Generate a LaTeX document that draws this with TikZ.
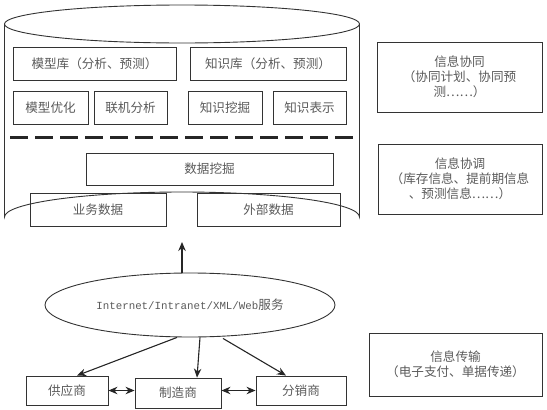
\documentclass[tikz,border=0pt]{standalone}
\usepackage{fontspec}
\usetikzlibrary{arrows.meta,shapes.geometric}
\newfontfamily\cjk{Noto Sans CJK SC}
\newfontfamily\monof{Liberation Mono}
\definecolor{txt}{HTML}{5A5A5A}
\definecolor{ln}{HTML}{333333}
\tikzset{
  box/.style={draw=ln, line width=0.9pt, inner sep=0pt, text=txt, align=center,
    font=\cjk\fontsize{12.6}{15}\selectfont},
  arr/.style={draw=black!85, line width=1.1pt, -{Stealth[length=9pt,width=7.5pt]}},
  darr/.style={draw=black!85, line width=1.1pt, {Stealth[length=9pt,width=7.5pt]}-{Stealth[length=9pt,width=7.5pt]}}
}
\begin{document}
\begin{tikzpicture}[x=1pt,y=-1pt]
\useasboundingbox (0,0) rectangle (547,410);
% cylinder
\draw[ln, line width=0.9pt] (182,24) ellipse [x radius=177.5, y radius=19];
\draw[ln, line width=0.9pt] (4.5,24) -- (4.5,217) arc[start angle=180, end angle=360, x radius=177.5, y radius=25] -- (359.5,24);
\coordinate (cylbot) at (182,242);
% top boxes
\node[box, minimum width=163, minimum height=33] (m1) at (94.5,63.5) {模型库（分析、预测）};
\node[box, minimum width=156, minimum height=33] (m2) at (268,63.5) {知识库（分析、预测）};
\node[box, minimum width=75, minimum height=33] (m3) at (50.5,107.5) {模型优化};
\node[box, minimum width=73, minimum height=33] (m4) at (130.5,107.5) {联机分析};
\node[box, minimum width=74, minimum height=33] (m5) at (225,107.5) {知识挖掘};
\node[box, minimum width=73, minimum height=33] (m6) at (309.5,107.5) {知识表示};
% dashed separator
\coordinate (dl) at (10,137);
\coordinate (dr) at (355,137);
\draw[black!85, line width=3pt, dash pattern=on 18pt off 7pt] (dl) -- (dr);
% lower boxes
\node[box, minimum width=247, minimum height=32] (d1) at (209.5,169) {数据挖掘};
\node[box, minimum width=136, minimum height=33] (d2) at (98,209.5) {业务数据};
\node[box, minimum width=143, minimum height=33] (d3) at (268.5,209.5) {外部数据};
% right boxes
\node[box, minimum width=165, minimum height=70] (r1) at (459.5,77) {信息协同\\（协同计划、协同预\\测……）};
\node[box, minimum width=164, minimum height=70] (r2) at (460,179) {信息协调\\（库存信息、提前期信息\\、预测信息……）};
\node[box, minimum width=173, minimum height=63] (r3) at (455.5,364.5) {信息传输\\（电子支付、单据传递）};
% network ellipse
\node[draw=ln, line width=0.9pt, ellipse, minimum width=290, minimum height=64, inner sep=0pt, text=txt] (net) at (190,305)
  {\monof\fontsize{10.8}{12}\selectfont Internet/Intranet/XML/Web{\cjk\fontsize{12.6}{12}\selectfont 服务}};
% bottom boxes
\node[box, minimum width=82, minimum height=29] (b1) at (67,390.5) {供应商};
\node[box, minimum width=86, minimum height=30] (b2) at (178,393) {制造商};
\node[box, minimum width=90, minimum height=29] (b3) at (301,390.5) {分销商};
% arrows
\draw[arr] (net.north -| cylbot) -- (cylbot);
\draw[arr] ([xshift=-13pt]net.south) -- ([xshift=10pt]b1.north);
\draw[arr] ([xshift=10pt]net.south) -- ([xshift=19pt]b2.north);
\draw[arr] ([xshift=33pt,yshift=-1pt]net.south) -- ([xshift=-15pt]b3.north);
\draw[darr] (b1.east) -- (b1.east -| b2.west);
\draw[darr] (b2.east |- b3.west) -- (b3.west);
\end{tikzpicture}
\end{document}
